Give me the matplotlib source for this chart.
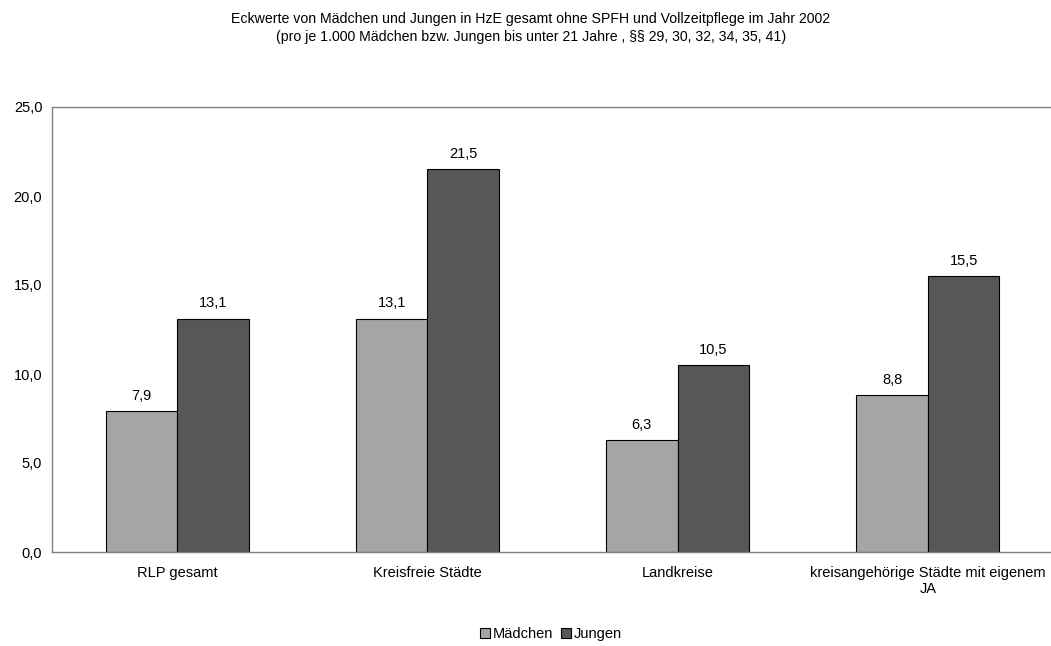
import matplotlib
matplotlib.use("Agg")
import matplotlib.pyplot as plt
import numpy as np
from matplotlib.patches import Patch

plt.rcParams['font.family'] = ['Liberation Sans', 'DejaVu Sans']

categories = ["RLP gesamt", "Kreisfreie Städte", "Landkreise",
              "kreisangehörige Städte mit eigenem\nJA"]
maedchen = [7.9, 13.1, 6.3, 8.8]
jungen = [13.1, 21.5, 10.5, 15.5]
series_names = ["Mädchen", "Jungen"]
yticks = [0, 5, 10, 15, 20, 25]
title = ("Eckwerte von Mädchen und Jungen in HzE gesamt ohne SPFH und Vollzeitpflege im Jahr 2002\n"
         "(pro je 1.000 Mädchen bzw. Jungen bis unter 21 Jahre , §§ 29, 30, 32, 34, 35, 41)")

c_m = "#a5a5a5"
c_j = "#575757"
fs = 10.5

fig = plt.figure(figsize=(10.51, 6.46), dpi=100)
ax = fig.add_axes([52 / 1051, 94 / 646, 1001 / 1051, 445 / 646])

x = np.arange(len(categories))
w = 0.286
b1 = ax.bar(x - w / 2, maedchen, w, color=c_m, edgecolor="#000000", linewidth=0.8)
b2 = ax.bar(x + w / 2, jungen, w, color=c_j, edgecolor="#000000", linewidth=0.8)

def fmt(v):
    return f"{v:.1f}".replace(".", ",")

for bars, vals in ((b1, maedchen), (b2, jungen)):
    for r, v in zip(bars, vals):
        ax.annotate(fmt(v), (r.get_x() + r.get_width() / 2, v),
                    xytext=(0, 6), textcoords="offset points",
                    ha="center", va="bottom", fontsize=fs)

ax.set_xlim(-0.5, len(categories) - 0.5)
ax.set_ylim(0, 25)
ax.set_yticks(yticks)
ax.set_yticklabels([fmt(v) for v in yticks], fontsize=fs)
ax.set_xticks(x)
ax.set_xticklabels(categories, fontsize=fs, linespacing=1.15)
ax.tick_params(axis="both", length=0)
ax.tick_params(axis="y", pad=7)
ax.tick_params(axis="x", pad=10)

for s in ("left", "top", "bottom"):
    ax.spines[s].set_color("#808080")
    ax.spines[s].set_linewidth(1.0)
ax.spines["right"].set_visible(False)

fig.text(531 / 1051, 1 - 28 / 646, title, ha="center", va="center", fontsize=10.2,
         linespacing=1.4)

handles = [Patch(facecolor=c_m, edgecolor="#000000", linewidth=0.8),
           Patch(facecolor=c_j, edgecolor="#000000", linewidth=0.8)]
fig.legend(handles, series_names, loc="center", bbox_to_anchor=(551 / 1051, 1 - 634 / 646),
           ncol=2, frameon=False, fontsize=fs, handlelength=0.7, handleheight=0.7,
           handletextpad=0.2, columnspacing=0.5)

fig.savefig("out.png", dpi=100)
